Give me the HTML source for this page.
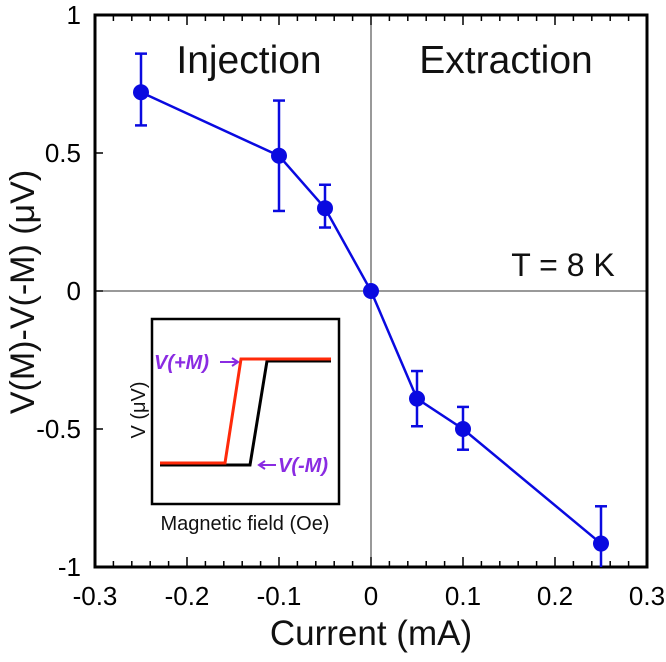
<!DOCTYPE html>
<html><head><meta charset="utf-8"><style>
html,body{margin:0;padding:0;background:#fff}
svg text{font-family:"Liberation Sans",sans-serif}
</style></head><body>
<svg id="chart" width="666" height="657" viewBox="0 0 666 657" xmlns="http://www.w3.org/2000/svg">
<g id="g"></g>
</svg>
<script>
const categories = [-0.25, -0.1, -0.05, 0, 0.05, 0.1, 0.25];
const values = [0.72, 0.49, 0.30, 0.0, -0.39, -0.50, -0.915];
const errUpper = [0.86, 0.69, 0.385, 0.0, -0.29, -0.42, -0.78];
const errLower = [0.60, 0.29, 0.23, 0.0, -0.49, -0.575, -1.05];
const xTicks = [-0.3, -0.2, -0.1, 0, 0.1, 0.2, 0.3];
const xTickLabels = ["-0.3","-0.2","-0.1","0","0.1","0.2","0.3"];
const yTicks = [-1, -0.5, 0, 0.5, 1];
const yTickLabels = ["-1","-0.5","0","0.5","1"];

const L=95,R=647,T=15,B=567;
const xs=v=>L+(v+0.3)/0.6*(R-L);
const ys=v=>B-(v+1)/2*(B-T);
const NS="http://www.w3.org/2000/svg";
const g=document.getElementById('g');
function el(tag,attrs,parent){const e=document.createElementNS(NS,tag);for(const k in attrs)e.setAttribute(k,attrs[k]);(parent||g).appendChild(e);return e;}

let zl=el('line',{x1:xs(0),x2:xs(0),y1:T,y2:B,stroke:'#333','stroke-width':1});


let zh=el('line',{x1:L,x2:R,y1:ys(0),y2:ys(0),stroke:'#333','stroke-width':1});



for(let i=-15;i<=15;i++){
  const v=i*0.02, x=xs(v);
  const major=(i%5===0);
  const len=major?10:6;
  let t1=el('line',{x1:x,x2:x,y1:B,y2:B-len,stroke:'#000','stroke-width':1.5});
  
  
  let t2=el('line',{x1:x,x2:x,y1:T,y2:T+len,stroke:'#000','stroke-width':1.5});
  
  
}
xTicks.forEach((v,i)=>{
  let t=el('text',{x:xs(v),y:B+38,'text-anchor':'middle','font-size':26,fill:'#000'});
  t.textContent=xTickLabels[i];
  
  
});
yTicks.forEach((v,i)=>{
  let l=el('line',{x1:L,x2:L+8,y1:ys(v),y2:ys(v),stroke:'#000','stroke-width':1.5});
  
  
  let t=el('text',{x:L-14,y:ys(v)+9,'text-anchor':'end','font-size':26,fill:'#000'});
  t.textContent=yTickLabels[i];
  
  
});

let fr=el('rect',{x:L,y:T,width:R-L,height:B-T,fill:'none',stroke:'#000','stroke-width':3});



let pts=categories.map((c,i)=>xs(c)+','+ys(values[i])).join(' ');
let pl=el('polyline',{points:pts,fill:'none',stroke:'#0a0ae0','stroke-width':2.5});


categories.forEach((c,i)=>{
  const x=xs(c);
  if(errUpper[i]!==errLower[i]){
    const y1=ys(errUpper[i]), y2=Math.min(ys(errLower[i]),B);
    let e=el('line',{x1:x,x2:x,y1:y1,y2:y2,stroke:'#0a0ae0','stroke-width':2.5});
    
    
    let c1=el('line',{x1:x-6,x2:x+6,y1:y1,y2:y1,stroke:'#0a0ae0','stroke-width':2.5});
    
    
    if(errLower[i]>=-1){
      let c2=el('line',{x1:x-6,x2:x+6,y1:y2,y2:y2,stroke:'#0a0ae0','stroke-width':2.5});
      
      
    }
  }
  let p=el('circle',{cx:x,cy:ys(values[i]),r:8,fill:'#0a0ae0'});
  
  
});

function txt(s,attrs,name){let t=el('text',attrs);t.textContent=s;
  
  return t;}
txt('Injection',{x:249,y:73,'text-anchor':'middle','font-size':39,fill:'#111'},'injection-label');
txt('Extraction',{x:506,y:73,'text-anchor':'middle','font-size':39,fill:'#111'},'extraction-label');
txt('T = 8 K',{x:563,y:276,'text-anchor':'middle','font-size':32,fill:'#111'},'temperature-label');
txt('Current (mA)',{x:371,y:645,'text-anchor':'middle','font-size':35,fill:'#111'},'x-axis-title');
txt('V(M)-V(-M) (\u03bcV)',{x:0,y:0,'text-anchor':'middle','font-size':34,fill:'#111',transform:'translate(34,292) rotate(-90)'},'y-axis-title');

let ib=el('rect',{x:152,y:319,width:187,height:185,fill:'#fff',stroke:'#000','stroke-width':2.5});


let bk=el('polyline',{points:'160,465 250,465 267,361 331,361',fill:'none',stroke:'#000','stroke-width':3});


let rd=el('polyline',{points:'160,463 225,463 241,359 331,359',fill:'none',stroke:'#ff2a0a','stroke-width':3});


txt('V(+M)',{x:154,y:369,'font-size':20,'font-weight':'bold','font-style':'italic',fill:'#8a2be2'},'inset-v-plus-m-label');
let a1=el('path',{d:'M220,362 L238,362 M232,358 L238,362 L232,366',fill:'none',stroke:'#8a2be2','stroke-width':2});


txt('V(-M)',{x:278,y:472,'font-size':20,'font-weight':'bold','font-style':'italic',fill:'#8a2be2'},'inset-v-minus-m-label');
let a2=el('path',{d:'M276,465 L259,465 M265,461 L259,465 L265,469',fill:'none',stroke:'#8a2be2','stroke-width':2});


txt('V (\u03bcV)',{x:0,y:0,'text-anchor':'middle','font-size':20,fill:'#111',transform:'translate(145,410) rotate(-90)'},'inset-y-title');
txt('Magnetic field (Oe)',{x:245,y:530,'text-anchor':'middle','font-size':20,fill:'#111'},'inset-x-title');
</script>
</body></html>
